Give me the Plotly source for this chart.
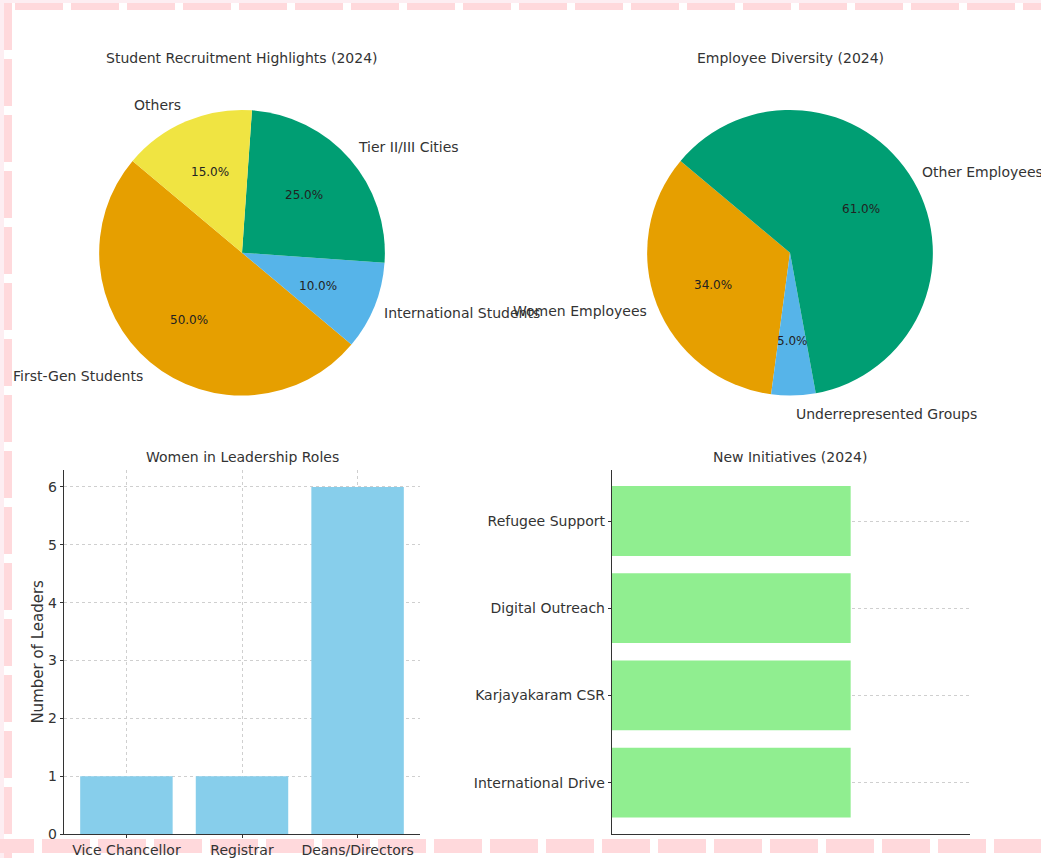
import math
import plotly.graph_objects as go

W, H = 1041, 858
SY = 0.987  # vertical compensation for the page capture

# ---- data ----
recruit_labels = ["First-Gen Students", "International Students", "Tier II/III Cities", "Others"]
recruit_values = [50, 10, 25, 15]
recruit_colors = ["#E69F00", "#56B4E9", "#009E73", "#F0E442"]

staff_labels = ["Women Employees", "Underrepresented Groups", "Other Employees"]
staff_values = [34, 5, 61]
staff_colors = ["#E69F00", "#56B4E9", "#009E73"]

roles = ["Vice Chancellor", "Registrar", "Deans/Directors"]
role_counts = [1, 1, 6]

initiatives = ["International Drive", "Karjayakaram CSR", "Digital Outreach", "Refugee Support"]
initiative_flags = [1, 1, 1, 1]

FONT = "DejaVu Sans"
TXT = "#333333"


def px_x(x):
    return x / W


def px_y(y):
    return 1 - (y / SY) / H


fig = go.Figure()
annotations = []


def add_pie(labels, values, colors, cx, cy, r, rx, ry, start_deg, title):
    total = sum(values)
    first_span = 360 * values[0] / total
    # plotly anchors the first wedge's far edge at `rotation` when counterclockwise
    fig.add_trace(go.Pie(
        labels=labels, values=values, sort=False,
        direction="counterclockwise", rotation=90 - (start_deg + first_span),
        marker=dict(colors=colors, line=dict(width=0)),
        textinfo="none", hoverinfo="label+percent", showlegend=False,
        domain=dict(x=[px_x(cx - r), px_x(cx + r)], y=[px_y(cy + r), px_y(cy - r)]),
    ))
    ang = start_deg
    for lab, v in zip(labels, values):
        span = 360 * v / total
        mid = math.radians(ang + span / 2)
        c, s = math.cos(mid), math.sin(mid)
        # percentage inside the wedge
        annotations.append(dict(
            x=px_x(cx + 0.6 * rx * c), y=px_y(cy - 0.6 * ry * s),
            xref="paper", yref="paper", text=f"{100 * v / total:.1f}%",
            showarrow=False, xanchor="center", yanchor="middle",
            font=dict(family=FONT, size=12, color="#222")))
        # category label outside the wedge
        annotations.append(dict(
            x=px_x(cx + 1.1 * rx * c), y=px_y(cy - 1.1 * ry * s),
            xref="paper", yref="paper", text=lab, showarrow=False,
            xanchor="left" if c >= 0 else "right", yanchor="middle",
            font=dict(family=FONT, size=14, color=TXT)))
        ang += span
    annotations.append(dict(
        x=px_x(cx), y=px_y(58), xref="paper", yref="paper", text=title,
        showarrow=False, xanchor="center", yanchor="middle",
        font=dict(family=FONT, size=14, color=TXT)))


add_pie(recruit_labels, recruit_values, recruit_colors, 242, 253, 143, 137, 146.5, 140,
        "Student Recruitment Highlights (2024)")
add_pie(staff_labels, staff_values, staff_colors, 790, 253, 143, 137, 146.5, 140,
        "Employee Diversity (2024)")

# ---- leadership bars ----
fig.add_trace(go.Bar(x=roles, y=role_counts, marker=dict(color="#87CEEB", line=dict(width=0)),
                     xaxis="x", yaxis="y", showlegend=False, width=0.8))

# ---- initiatives bars ----
fig.add_trace(go.Bar(y=initiatives, x=initiative_flags, orientation="h",
                     marker=dict(color="#90EE90", line=dict(width=0)),
                     xaxis="x2", yaxis="y2", showlegend=False, width=0.8))

for t, x in (("Women in Leadership Roles", 242), ("New Initiatives (2024)", 790)):
    annotations.append(dict(
        x=px_x(x), y=px_y(457), xref="paper", yref="paper", text=t,
        showarrow=False, xanchor="center", yanchor="middle",
        font=dict(family=FONT, size=14, color=TXT)))

axis_common = dict(showline=True, linecolor="#333", linewidth=1.4, mirror=False,
                   ticks="outside", ticklen=3, tickcolor="#333",
                   tickfont=dict(family=FONT, size=14, color=TXT),
                   gridcolor="#cfcfcf", griddash="dot", gridwidth=1, zeroline=False)

# page border: pale outer band, white sheet, pink dashed frame
PINK = "#FFD9DC"
shapes = [
    dict(type="rect", xref="paper", yref="paper", x0=px_x(4), x1=px_x(W + 20),
         y0=-0.1, y1=px_y(3), fillcolor="white", line=dict(width=0), layer="below"),
    dict(type="line", xref="paper", yref="paper", x0=px_x(15), x1=px_x(W + 60),
         y0=px_y(6.5), y1=px_y(6.5), layer="below",
         line=dict(color=PINK, width=7, dash="48px,8px")),
    dict(type="line", xref="paper", yref="paper", x0=px_x(8), x1=px_x(8),
         y0=px_y(3), y1=-0.1, layer="below",
         line=dict(color=PINK, width=8, dash="47px,9px")),
    dict(type="line", xref="paper", yref="paper", x0=px_x(-14), x1=px_x(W + 60),
         y0=0, y1=0, layer="below",
         line=dict(color=PINK, width=14, dash="48px,8px")),
]

fig.update_layout(
    width=W, height=H, margin=dict(l=0, r=0, t=0, b=0), autosize=False,
    paper_bgcolor="#FDEEF2", plot_bgcolor="white",
    font=dict(family=FONT, color=TXT),
    xaxis=dict(domain=[px_x(64), px_x(420)], anchor="y", range=[-0.54, 2.54],
               showgrid=True, **axis_common),
    yaxis=dict(domain=[px_y(835), px_y(470)], anchor="x", range=[0, 6.3],
               tickvals=[0, 1, 2, 3, 4, 5, 6], showgrid=True,
               title=dict(text="Number of Leaders", font=dict(family=FONT, size=15, color=TXT),
                          standoff=0),
               **axis_common),
    xaxis2=dict(domain=[px_x(612), px_x(970)], anchor="y2", range=[0, 1.5],
                showline=True, linecolor="#333", linewidth=1.4, showticklabels=False,
                ticks="", showgrid=False, zeroline=False),
    yaxis2=dict(domain=[px_y(835), px_y(470)], anchor="x2", range=[-0.59, 3.59],
                categoryorder="array", categoryarray=initiatives, showgrid=True,
                **axis_common),
    annotations=annotations,
    shapes=shapes,
)

fig.write_html("out.html")
